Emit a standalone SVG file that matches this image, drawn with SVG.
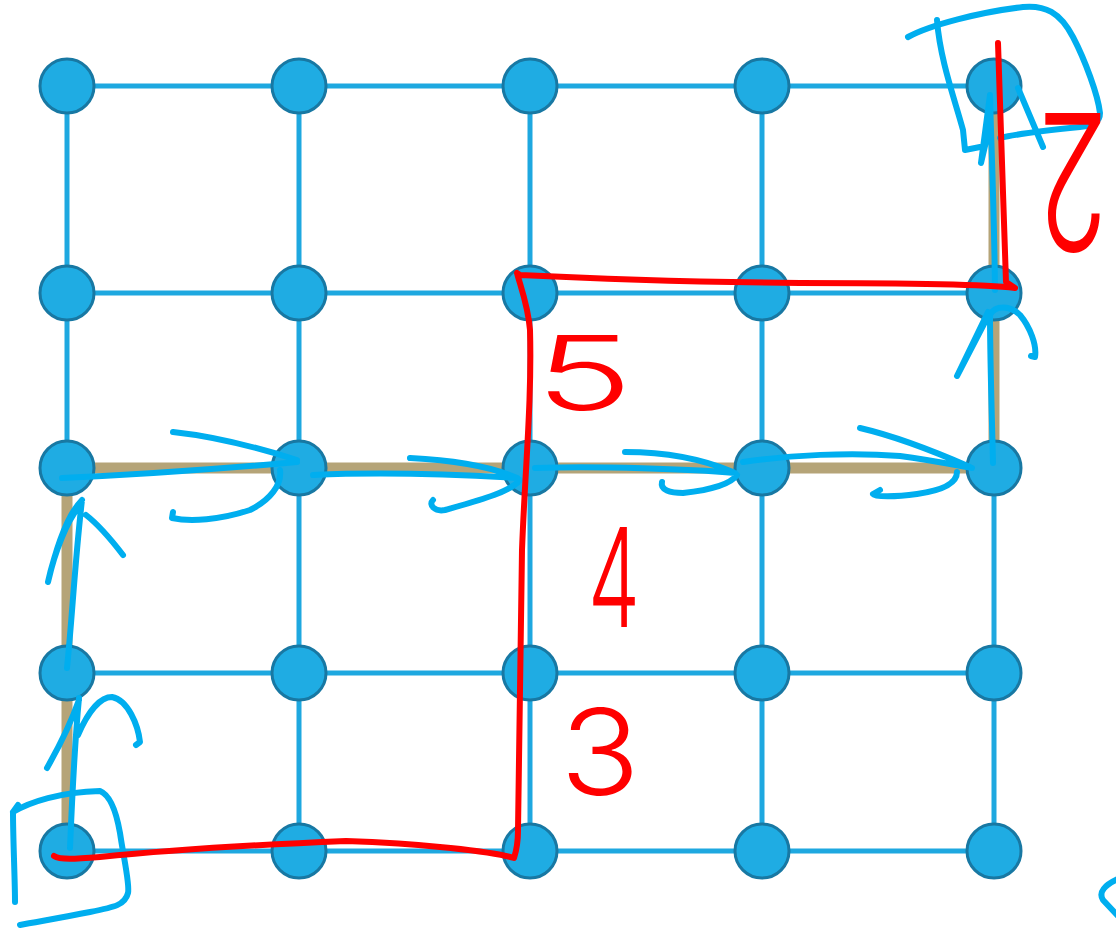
<svg xmlns="http://www.w3.org/2000/svg" width="1116" height="930" viewBox="0 0 1116 930">
<style>
.edge{stroke:#1EA8E0;stroke-width:5;fill:none}
.route{stroke:#B5A478;stroke-width:11;fill:none;stroke-linejoin:miter}
.node{fill:#1FACE3;stroke:#1878A3;stroke-width:3}
.ink{stroke:#00AEEF;stroke-width:6;fill:none;stroke-linecap:round;stroke-linejoin:round}
.red{stroke:#FF0000;stroke-width:6;fill:none;stroke-linecap:round;stroke-linejoin:round}
.num{fill:#FF0000;font-family:Inter,"Liberation Sans",sans-serif;font-weight:300}
</style>
<rect width="1116" height="930" fill="#FFFFFF"/>
<g id="edges">
<path class="edge" d="M67 86H994M67 293H994M67 468H994M67 673H994M67 851H994"/>
<path class="edge" d="M67 86V851M299 86V851M530 86V851M762 86V851M994 86V851"/>
<path class="route" d="M67 851V468H994V86"/>
</g>
<g id="nodes">
<g id="n11"><circle class="node" cx="67" cy="86" r="27"/></g>
<g id="n12"><circle class="node" cx="299" cy="86" r="27"/></g>
<g id="n13"><circle class="node" cx="530" cy="86" r="27"/></g>
<g id="n14"><circle class="node" cx="762" cy="86" r="27"/></g>
<g id="n15"><circle class="node" cx="994" cy="86" r="27"/></g>
<g id="n21"><circle class="node" cx="67" cy="293" r="27"/></g>
<g id="n22"><circle class="node" cx="299" cy="293" r="27"/></g>
<g id="n23"><circle class="node" cx="530" cy="293" r="27"/></g>
<g id="n24"><circle class="node" cx="762" cy="293" r="27"/></g>
<g id="n25"><circle class="node" cx="994" cy="293" r="27"/></g>
<g id="n31"><circle class="node" cx="67" cy="468" r="27"/></g>
<g id="n32"><circle class="node" cx="299" cy="468" r="27"/></g>
<g id="n33"><circle class="node" cx="530" cy="468" r="27"/></g>
<g id="n34"><circle class="node" cx="762" cy="468" r="27"/></g>
<g id="n35"><circle class="node" cx="994" cy="468" r="27"/></g>
<g id="n41"><circle class="node" cx="67" cy="673" r="27"/></g>
<g id="n42"><circle class="node" cx="299" cy="673" r="27"/></g>
<g id="n43"><circle class="node" cx="530" cy="673" r="27"/></g>
<g id="n44"><circle class="node" cx="762" cy="673" r="27"/></g>
<g id="n45"><circle class="node" cx="994" cy="673" r="27"/></g>
<g id="n51"><circle class="node" cx="67" cy="851" r="27"/></g>
<g id="n52"><circle class="node" cx="299" cy="851" r="27"/></g>
<g id="n53"><circle class="node" cx="530" cy="851" r="27"/></g>
<g id="n54"><circle class="node" cx="762" cy="851" r="27"/></g>
<g id="n55"><circle class="node" cx="994" cy="851" r="27"/></g>
</g>
<g id="blue-ink">
<path class="ink" d="M908 37C930 25 980 12 1023 7C1045 5 1060 12 1073 37C1085 60 1098 95 1100 113C1100 122 1093 126 1080 127C1050 130 1020 133 1000 138"/>
<path class="ink" d="M937 20C940 60 955 100 963 130L965 150L980 147"/>
<path class="ink" d="M995 290C994 200 991 140 990 95M990 95L981 163L988 133M1018 88L1043 147"/>
<path class="ink" d="M993 463C992 420 990 360 990 315C995 305 1010 305 1020 315C1030 327 1037 345 1035 357L1031 356M988 312L957 376L985 322"/>
<path class="ink" d="M743 462C790 455 850 452 900 456C930 460 955 465 972 468M860 428C890 435 920 445 970 467M957 472C957 482 945 490 917 494C895 497 875 497 873 494L880 490"/>
<path class="ink" d="M535 468C600 466 690 469 735 473M625 452C660 452 700 458 733 472M737 475C730 485 710 490 683 493C670 493 660 490 662 482"/>
<path class="ink" d="M313 475C380 472 450 474 517 478M410 458C450 460 490 466 517 478M520 480C510 492 480 500 445 510C435 512 428 505 433 500"/>
<path class="ink" d="M62 478C150 474 230 468 297 462M173 432C210 436 250 445 297 460M280 470C282 485 270 500 250 510C220 520 190 522 172 518L173 512"/>
<path class="ink" d="M67 668C72 620 75 560 82 500M82 500C70 512 58 540 48 582C55 550 68 520 78 508M86 515C95 522 110 538 123 555"/>
<path class="ink" d="M70 848C72 800 75 740 79 698M79 700C72 720 60 745 47 768M78 735C88 712 100 697 112 697C128 700 138 725 140 742L136 745"/>
<path class="ink" d="M18 805L13 812C13 840 15 880 15 902M13 812C30 802 60 792 100 791C110 795 116 810 120 833C124 860 130 885 128 893C125 905 115 907 90 912C60 918 35 922 20 925"/>
<path class="ink" d="M1118 879C1105 885 1098 892 1103 900L1118 916"/>
</g>
<g id="red-ink">
<path class="red" d="M998 43C1000 120 1003 200 1006 282L1015 288C990 285 900 283 800 283C700 282 600 279 520 275L517 273C520 285 528 305 530 330C532 400 525 470 522 550C520 650 520 750 518 830C518 845 516 852 514 858C495 852 420 843 346 841C250 845 150 852 100 857C75 859 60 860 54 856"/>
<text class="num" x="535" y="410" font-size="103" textLength="98" lengthAdjust="spacingAndGlyphs">5</text>
<text class="num" x="588" y="627" font-size="137" textLength="52" lengthAdjust="spacingAndGlyphs">4</text>
<text class="num" x="560" y="795" font-size="120" textLength="80" lengthAdjust="spacingAndGlyphs">3</text>
<text class="num" x="1036" y="253" font-size="190" font-weight="200" textLength="74" lengthAdjust="spacingAndGlyphs" transform="rotate(180 1073 183)">2</text>
</g>
</svg>
